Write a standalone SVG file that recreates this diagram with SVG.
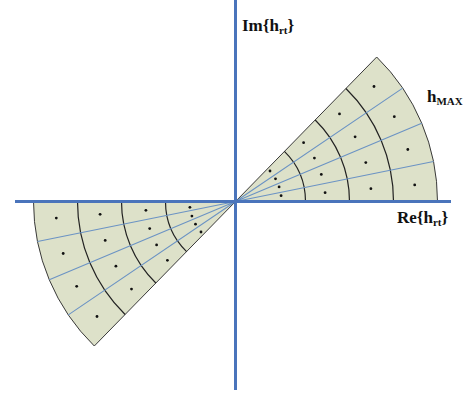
<svg xmlns="http://www.w3.org/2000/svg" width="471" height="393" viewBox="0 0 471 393">
<style>
.sec{fill:#dde1c9;stroke:#3a3a3a;stroke-width:1}
.arc{fill:none;stroke:#222;stroke-width:1.2}
.ray{stroke:#6b93c4;stroke-width:1.1}
.dot{fill:#111}
.axis{stroke:#4a74bb;stroke-width:3}
.lbl{font-family:"Liberation Serif",serif;font-weight:bold;font-size:17px;fill:#111}
.sub{font-size:11px}
</style>
<defs>
<g id="wedge">
<path class="sec" d="M0,0 L202,0 A202,202 0 0,0 141.2,-144.5 Z"/>
<path class="arc" d="M70,0 A70,70 0 0,0 48.9,-50.1 M114,0 A114,114 0 0,0 79.7,-81.5 M158,0 A158,158 0 0,0 110.4,-113"/>
<path class="ray" d="M0,0 L198,-40 M0,0 L186.2,-78.3 M0,0 L167.2,-113.4"/>
<g class="dot">
<circle cx="34.5" cy="-30.5" r="1.4"/><circle cx="40" cy="-22.7" r="1.4"/><circle cx="43.6" cy="-14.6" r="1.4"/><circle cx="45.6" cy="-5.8" r="1.4"/>
<circle cx="68.1" cy="-58.8" r="1.4"/><circle cx="78.9" cy="-43.4" r="1.4"/><circle cx="85.8" cy="-27.1" r="1.4"/><circle cx="89.6" cy="-8.8" r="1.4"/>
<circle cx="104" cy="-87.6" r="1.4"/><circle cx="119.6" cy="-64.7" r="1.4"/><circle cx="130.3" cy="-38.9" r="1.4"/><circle cx="135.4" cy="-12.8" r="1.4"/>
<circle cx="138.5" cy="-115" r="1.4"/><circle cx="158.8" cy="-84.8" r="1.4"/><circle cx="172.3" cy="-52" r="1.4"/><circle cx="179.2" cy="-16.6" r="1.4"/>
</g>
</g>
</defs>
<g id="sector-right"><use href="#wedge" transform="translate(235.5,201.5)"/></g>
<g id="sector-left"><use href="#wedge" transform="translate(235.5,201.5) rotate(180)"/></g>
<g id="axes">
<line class="axis" x1="15" y1="201.5" x2="451" y2="201.5"/>
<line class="axis" x1="235.5" y1="0" x2="235.5" y2="390"/>
</g>
<g id="labels">
<text class="lbl" x="242" y="31">Im{h<tspan class="sub" dy="3">rt</tspan><tspan dy="-3">}</tspan></text>
<text class="lbl" x="397" y="223">Re{h<tspan class="sub" dy="3">rt</tspan><tspan dy="-3">}</tspan></text>
<text class="lbl" x="427" y="102">h<tspan class="sub" dy="3">MAX</tspan></text>
</g>
</svg>
